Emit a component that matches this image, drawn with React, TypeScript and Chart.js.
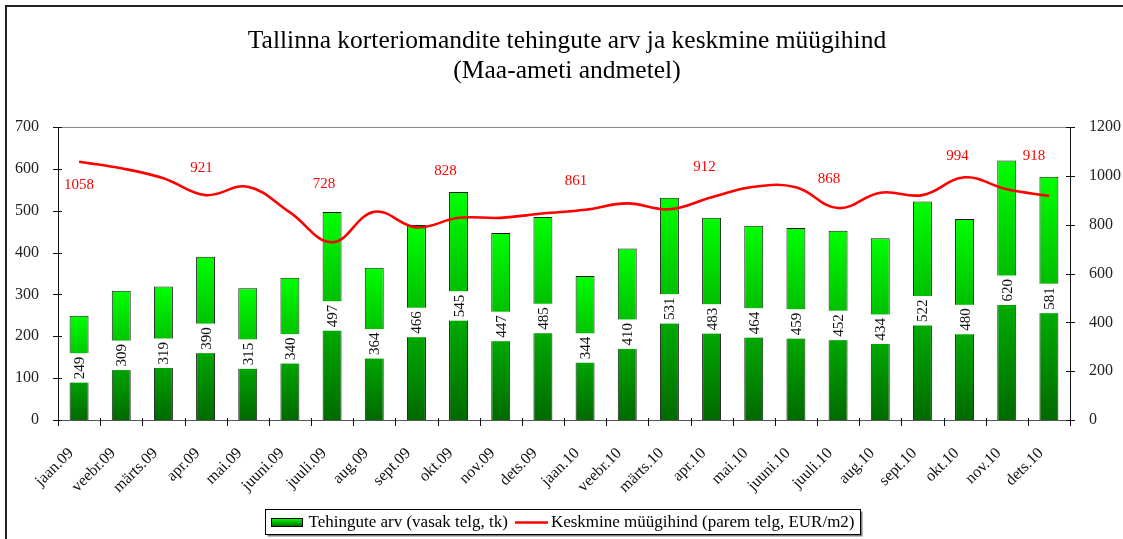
import React, { useEffect, useRef } from "react";
import { Chart, registerables } from "chart.js";

Chart.register(...registerables);

// ---------- data ----------
const months = [
  "jaan.09", "veebr.09", "märts.09", "apr.09", "mai.09", "juuni.09",
  "juuli.09", "aug.09", "sept.09", "okt.09", "nov.09", "dets.09",
  "jaan.10", "veebr.10", "märts.10", "apr.10", "mai.10", "juuni.10",
  "juuli.10", "aug.10", "sept.10", "okt.10", "nov.10", "dets.10",
];
const transactionCounts = [
  249, 309, 319, 390, 315, 340, 497, 364, 466, 545, 447, 485,
  344, 410, 531, 483, 464, 459, 452, 434, 522, 480, 620, 581,
];
const averagePrices = [
  1058, 1031, 990, 921, 955, 850, 728, 853, 789, 828, 828, 846,
  861, 887, 863, 912, 955, 953, 868, 931, 921, 994, 945, 918,
];
const labelledPriceIndices = [0, 3, 6, 9, 12, 15, 18, 21, 23];
const leftTickValues = [0, 100, 200, 300, 400, 500, 600, 700];
const rightTickValues = [0, 200, 400, 600, 800, 1000, 1200];
const titleLines = [
  "Tallinna korteriomandite tehingute arv ja keskmine müügihind",
  "(Maa-ameti andmetel)",
];
const seriesNames = [
  "Tehingute arv (vasak telg, tk)",
  "Keskmine müügihind (parem telg, EUR/m2)",
];

// ---------- styling ----------
const SERIF = '"Liberation Serif", "Times New Roman", serif';
const W = 1123;
const H = 539;
// manual label nudges (dx, dy) for the labelled price points, in px
const priceLabelNudges: [number, number][] = [
  [0, 23], [-4, -27], [-8, -58], [-13, -47], [-9, -29],
  [-7, -30], [-9, -29], [-7, -21], [-15, -40],
];

function barGradient(ctx: CanvasRenderingContext2D, top: number, bottom: number) {
  const g = ctx.createLinearGradient(0, top, 0, bottom);
  g.addColorStop(0, "#00ff00");
  g.addColorStop(1, "#006a00");
  return g;
}

const decorPlugin = {
  id: "decor",
  beforeDraw(chart: any) {
    const { ctx, chartArea: a } = chart;
    ctx.save();
    ctx.fillStyle = "#ffffff";
    ctx.fillRect(0, 0, chart.width, chart.height);
    // outer frame (top & left visible)
    ctx.strokeStyle = "#222";
    ctx.lineWidth = 2;
    ctx.beginPath();
    ctx.moveTo(6, chart.height);
    ctx.lineTo(6, 6);
    ctx.lineTo(chart.width, 6);
    ctx.stroke();
    // plot area top line
    ctx.strokeStyle = "#8a8a8a";
    ctx.lineWidth = 1;
    ctx.beginPath();
    ctx.moveTo(a.left, Math.round(a.top) + 0.5);
    ctx.lineTo(a.right, Math.round(a.top) + 0.5);
    ctx.stroke();
    ctx.restore();
  },
  afterDatasetDraw(chart: any, args: any) {
    if (args.index !== 0) return;
    const ctx: CanvasRenderingContext2D = chart.ctx;
    const meta = chart.getDatasetMeta(0);
    ctx.save();
    ctx.font = `15px ${SERIF}`;
    meta.data.forEach((bar: any, i: number) => {
      const { x, y, base, width } = bar.getProps(["x", "y", "base", "width"], true);
      const txt = String(transactionCounts[i]);
      const tw = ctx.measureText(txt).width;
      const cy = (y + base) / 2;
      const h = tw + 7;
      ctx.fillStyle = "#ffffff";
      ctx.fillRect(x - width / 2 - 1, cy - h / 2, width + 2, h);
      ctx.save();
      ctx.translate(x, cy);
      ctx.rotate(-Math.PI / 2);
      ctx.fillStyle = "#111";
      ctx.textAlign = "center";
      ctx.textBaseline = "middle";
      ctx.fillText(txt, 0, 1);
      ctx.restore();
    });
    ctx.restore();
  },
  afterDraw(chart: any) {
    const { ctx, chartArea: a } = chart;
    const xs = chart.scales.x;
    const yl = chart.scales.y;
    const yr = chart.scales.y1;
    ctx.save();

    // axis lines
    ctx.lineWidth = 1;
    ctx.strokeStyle = "#111";
    ctx.beginPath();
    ctx.moveTo(Math.round(a.left) + 0.5, a.top);
    ctx.lineTo(Math.round(a.left) + 0.5, a.bottom);
    ctx.moveTo(Math.round(a.right) + 0.5, a.top);
    ctx.lineTo(Math.round(a.right) + 0.5, a.bottom);
    ctx.stroke();
    ctx.strokeStyle = "#555";
    ctx.beginPath();
    ctx.moveTo(a.left, Math.round(a.bottom) + 0.5);
    ctx.lineTo(a.right, Math.round(a.bottom) + 0.5);
    ctx.stroke();

    // cross tick marks
    ctx.strokeStyle = "#111";
    ctx.beginPath();
    leftTickValues.forEach((v) => {
      const py = Math.round(yl.getPixelForValue(v)) + 0.5;
      ctx.moveTo(a.left - 5, py);
      ctx.lineTo(a.left + 4, py);
    });
    rightTickValues.forEach((v) => {
      const py = Math.round(yr.getPixelForValue(v)) + 0.5;
      ctx.moveTo(a.right - 4, py);
      ctx.lineTo(a.right + 5, py);
    });
    const step = xs.getPixelForValue(1) - xs.getPixelForValue(0);
    for (let i = 0; i <= months.length; i++) {
      const px = Math.round(xs.getPixelForValue(0) + (i - 0.5) * step) + 0.5;
      ctx.moveTo(px, a.bottom - 2);
      ctx.lineTo(px, a.bottom + 6);
    }
    ctx.stroke();

    // price labels
    const lineMeta = chart.getDatasetMeta(1);
    ctx.font = `15px ${SERIF}`;
    ctx.fillStyle = "#ff0000";
    ctx.textAlign = "center";
    ctx.textBaseline = "middle";
    labelledPriceIndices.forEach((idx, k) => {
      const pt = lineMeta.data[idx];
      const [dx, dy] = priceLabelNudges[k] || [0, -20];
      ctx.fillText(String(averagePrices[idx]), pt.x + dx, pt.y + dy);
    });

    // title
    ctx.fillStyle = "#000";
    ctx.font = `25.5px ${SERIF}`;
    ctx.fillText(titleLines[0], 567, 41);
    ctx.fillText(titleLines[1], 567, 71);

    // legend
    ctx.font = `17px ${SERIF}`;
    const w1 = ctx.measureText(seriesNames[0]).width;
    const w2 = ctx.measureText(seriesNames[1]).width;
    const total = 6 + 31 + 6 + w1 + 7 + 33 + 3 + w2 + 6;
    const lx = Math.round(563 - total / 2) + 0.5;
    const ly = 509.5;
    const lh = 25;
    ctx.fillStyle = "#808080";
    ctx.fillRect(lx + 2, ly + 2, total, lh);
    ctx.fillStyle = "#fff";
    ctx.fillRect(lx, ly, total, lh);
    ctx.strokeStyle = "#000";
    ctx.lineWidth = 1;
    ctx.strokeRect(lx, ly, total, lh);
    const cyL = ly + lh / 2 + 0.5;
    let cx = lx + 6;
    ctx.fillStyle = barGradient(ctx, cyL - 4, cyL + 4);
    ctx.fillRect(cx, cyL - 4, 31, 8);
    ctx.strokeStyle = "#000";
    ctx.strokeRect(cx, cyL - 4, 31, 8);
    cx += 31 + 6;
    ctx.fillStyle = "#000";
    ctx.textAlign = "left";
    ctx.fillText(seriesNames[0], cx, cyL);
    cx += w1 + 7;
    ctx.strokeStyle = "#ff0000";
    ctx.lineWidth = 2.5;
    ctx.beginPath();
    ctx.moveTo(cx, cyL);
    ctx.lineTo(cx + 33, cyL);
    ctx.stroke();
    cx += 33 + 3;
    ctx.fillText(seriesNames[1], cx, cyL);

    ctx.restore();
  },
};

export default function App() {
  const canvasRef = useRef<HTMLCanvasElement | null>(null);

  useEffect(() => {
    if (!canvasRef.current) return;
    const chart = new Chart(canvasRef.current, {
      type: "bar",
      data: {
        labels: months,
        datasets: [
          {
            type: "bar",
            label: seriesNames[0],
            data: transactionCounts,
            yAxisID: "y",
            order: 1,
            barPercentage: 0.45,
            categoryPercentage: 1,
            borderColor: "#1a1a1a",
            borderWidth: 1,
            backgroundColor: (c: any) => {
              const ch = c.chart;
              if (c.type !== "data" || !ch.chartArea || !ch.scales.y) return "#00c000";
              const top = ch.scales.y.getPixelForValue(c.raw as number);
              const bottom = ch.scales.y.getPixelForValue(0);
              return barGradient(ch.ctx, top, bottom);
            },
          },
          {
            type: "line",
            label: seriesNames[1],
            data: averagePrices,
            yAxisID: "y1",
            order: 0,
            borderColor: "#ff0000",
            borderWidth: 2.6,
            pointRadius: 0,
            tension: 0.4,
            fill: false,
          },
        ],
      } as any,
      options: {
        responsive: false,
        animation: false,
        devicePixelRatio: 1,
        layout: { padding: { top: 127, left: 0, right: 0, bottom: 0 } },
        plugins: {
          legend: { display: false },
          title: { display: false },
          tooltip: { enabled: false },
        },
        scales: {
          x: {
            type: "category",
            offset: true,
            grid: { display: false, offset: true },
            border: { display: false },
            ticks: {
              autoSkip: false,
              maxRotation: 45,
              minRotation: 45,
              padding: 16,
              labelOffset: -8,
              color: "#111",
              font: { family: SERIF, size: 16 },
            },
            afterFit: (s: any) => {
              s.height = 119;
            },
          },
          y: {
            position: "left",
            min: 0,
            max: 700,
            grid: { display: false },
            border: { display: false },
            ticks: {
              stepSize: 100,
              padding: 11,
              color: "#222",
              font: { family: SERIF, size: 16 },
              callback: (v: any) => String(v),
            },
            afterFit: (s: any) => {
              s.width = 58;
            },
          },
          y1: {
            position: "right",
            min: 0,
            max: 1200,
            grid: { display: false },
            border: { display: false },
            ticks: {
              stepSize: 200,
              padding: 11,
              color: "#222",
              font: { family: SERIF, size: 16 },
              callback: (v: any) => String(v),
            },
            afterFit: (s: any) => {
              s.width = W - 1070;
            },
          },
        },
      },
      plugins: [decorPlugin],
    });
    return () => chart.destroy();
  }, []);

  return (
    <div style={{ position: "fixed", left: 0, top: 0, width: W, height: H, background: "#fff" }}>
      <canvas ref={canvasRef} width={W} height={H} style={{ display: "block" }} />
    </div>
  );
}
